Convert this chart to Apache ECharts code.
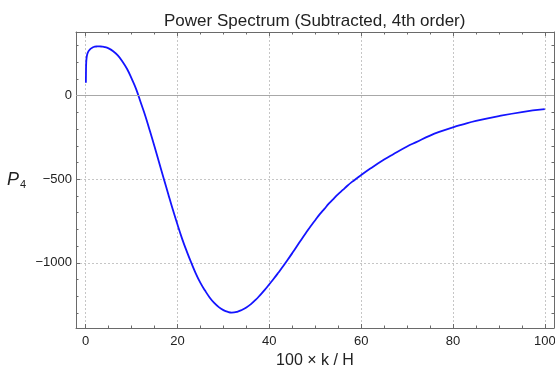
<!DOCTYPE html>
<html>
<head>
<meta charset="utf-8">
<script src="https://cdn.jsdelivr.net/npm/echarts@6/dist/echarts.min.js"></script>
<style>
  html, body { margin: 0; padding: 0; background: #fff; }
  #chart { width: 555px; height: 371px; }
</style>
</head>
<body>
<div id="chart"></div>
<script>
// values
const kValues = [0.05, 0.08, 0.12, 0.2, 0.35, 0.6, 1.0, 1.5, 2.0, 2.5, 3.0, 3.5, 4, 5, 6, 7, 8, 9,
  10, 11, 12, 13, 14, 15, 16, 17, 18, 19, 20, 21, 22, 23, 24, 25, 26, 27, 28, 29, 30, 31, 31.8,
  33, 34, 35, 36, 37, 38, 39, 40, 41, 42, 43, 44, 45, 46, 47, 48, 49, 50, 51, 52, 53, 54, 55, 56,
  57, 58, 59, 60, 62, 65, 67, 70, 72, 75, 77, 80, 82, 85, 90, 95, 100];
const p4Values = [78, 150, 195, 225, 248, 265, 279, 288, 293, 294.5, 295, 294, 292, 283, 266, 241, 205, 161,
  103, 39, -41, -121, -212, -304, -400, -495, -590, -683, -771, -855, -930, -999, -1064, -1120, -1166, -1207,
  -1240, -1265, -1283, -1294, -1298,
  -1293, -1282, -1267, -1247, -1222, -1193, -1162, -1128, -1094, -1058, -1021, -982, -942, -901, -860,
  -820, -781, -745, -709, -677, -645, -617, -589, -564, -539, -516, -495, -475, -436, -382, -350, -304,
  -278, -239, -217, -189, -173, -151, -122, -98, -81];

const xRange = [-2.1, 102];
const yRange = [-1390, 381];

const font = '"Liberation Sans", Arial, sans-serif';
const frameColor = '#6a6a6a';
const toMinus = v => String(v).replace('-', '\u2212');

// one side of the Mathematica-like frame
function frameAxis(position, range, splitNumber, minorSplit, withLabels, margin) {
  return {
    type: 'value',
    position: position,
    min: range[0],
    max: range[1],
    splitNumber: splitNumber,
    axisLine: { show: true, onZero: false, lineStyle: { color: frameColor, width: 1 } },
    axisTick: { show: true, inside: true, length: 4, lineStyle: { color: frameColor } },
    minorTick: { show: true, splitNumber: minorSplit, length: 2.5, lineStyle: { color: frameColor } },
    axisLabel: {
      show: withLabels,
      showMinLabel: false,
      showMaxLabel: false,
      margin: margin,
      color: '#222',
      fontSize: 13,
      fontFamily: font,
      formatter: toMinus
    },
    splitLine: { show: withLabels, lineStyle: { color: '#c6c6c6', type: [2, 2], width: 1 } }
  };
}

const xBottom = frameAxis('bottom', xRange, 5, 4, true, 7);
xBottom.name = '100 \u00d7 k / H';
xBottom.nameLocation = 'middle';
xBottom.nameGap = 19;
xBottom.nameTextStyle = { fontSize: 16, color: '#222', fontFamily: font };

const yLeft = frameAxis('left', yRange, 4, 5, true, 4);
yLeft.name = '{p|P}{s|4}';
yLeft.nameLocation = 'middle';
yLeft.nameRotate = 0;
yLeft.nameGap = 50;
yLeft.nameTextStyle = {
  color: '#222',
  fontFamily: font,
  rich: {
    p: { fontSize: 18, fontStyle: 'italic', fontFamily: font, color: '#222' },
    s: { fontSize: 11, fontFamily: font, color: '#222', padding: [9, 0, 0, 1] }
  }
};

const option = {
  animation: false,
  backgroundColor: '#fff',
  // title sits centred over the frame, not the page
  title: {
    text: 'Power Spectrum (Subtracted, 4th order)',
    left: 164,
    top: 13,
    padding: 0,
    textStyle: { fontSize: 17, fontWeight: 'normal', color: '#222', fontFamily: font }
  },
  grid: { left: 76, right: 1, top: 32, bottom: 43, containLabel: false, outerBoundsMode: 'none' },
  xAxis: [xBottom, frameAxis('top', xRange, 5, 4, false, 7)],
  yAxis: [yLeft, frameAxis('right', yRange, 4, 5, false, 4)],
  series: [{
    type: 'line',
    xAxisIndex: 0,
    yAxisIndex: 0,
    data: kValues.map((k, i) => [k, p4Values[i]]),
    showSymbol: false,
    smooth: 0.45,
    lineStyle: { color: '#1414ff', width: 1.8 },
    markLine: {
      silent: true,
      symbol: 'none',
      label: { show: false },
      lineStyle: { color: '#a8a8a8', type: 'solid', width: 1 },
      data: [{ yAxis: 0 }]
    }
  }]
};

const chart = echarts.init(document.getElementById('chart'));
chart.setOption(option);
</script>
</body>
</html>
